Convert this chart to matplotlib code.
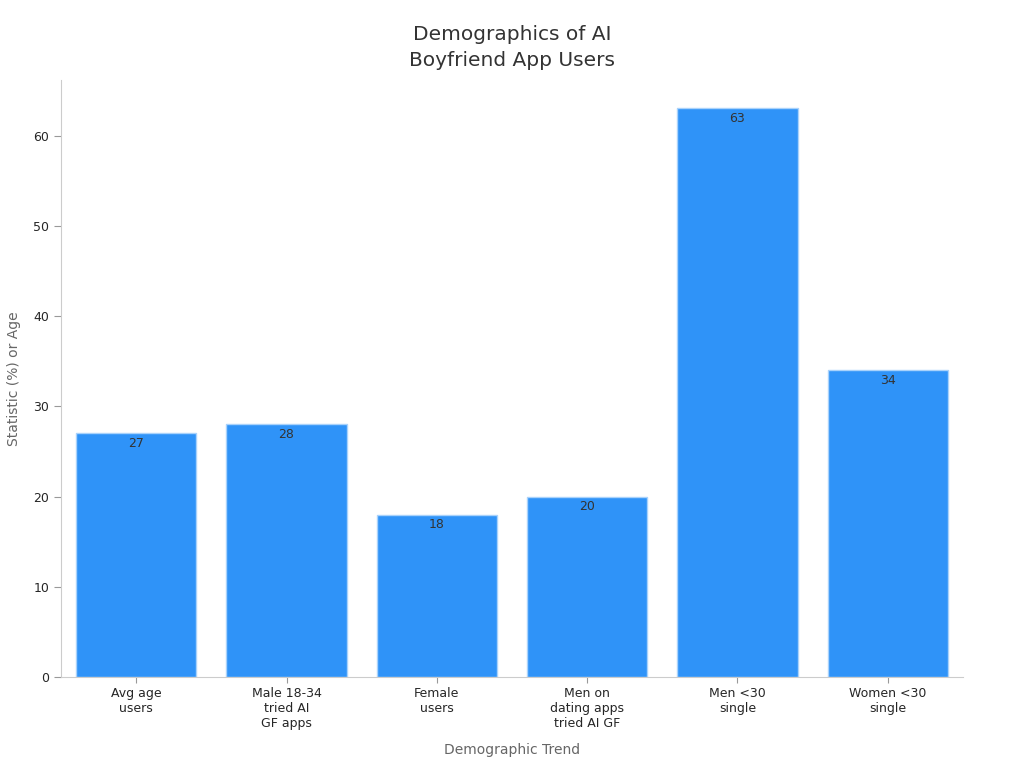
import matplotlib
matplotlib.use("Agg")
import matplotlib.pyplot as plt
import numpy as np

categories = ["Avg age\nusers", "Male 18-34\ntried AI\nGF apps", "Female\nusers",
              "Men on\ndating apps\ntried AI GF", "Men <30\nsingle", "Women <30\nsingle"]
values = [27, 28, 18, 20, 63, 34]

fig = plt.figure(figsize=(10.24, 7.68), dpi=100)
ax = fig.add_axes([0.0596, 0.1185, 0.8808, 0.7773])

x = np.arange(len(categories))
bars = ax.bar(x, values, width=0.8, color="#2f93f8", edgecolor="#a9d2fb", linewidth=1)

for b, v in zip(bars, values):
    ax.text(b.get_x() + b.get_width() / 2, v - 0.4, str(v), ha="center", va="top",
            fontsize=9, color="#333333")

ax.set_xlim(-0.5, 5.5)
ax.set_ylim(0, 66.15)
ax.set_xticks(x)
ax.set_xticklabels(categories, fontsize=9, color="#262626")
ax.set_yticks([0, 10, 20, 30, 40, 50, 60])
ax.tick_params(axis="y", labelsize=9, labelcolor="#262626", color="#999999", length=5)
ax.tick_params(axis="x", color="#999999", length=4)

for s in ["top", "right"]:
    ax.spines[s].set_visible(False)
for s in ["left", "bottom"]:
    ax.spines[s].set_color("#cccccc")

ax.set_xlabel("Demographic Trend", fontsize=10, color="#666666", labelpad=9)
ax.set_ylabel("Statistic (%) or Age", fontsize=10, color="#666666", labelpad=9)
ax.set_title("Demographics of AI\nBoyfriend App Users", fontsize=14.5, color="#333333",
             pad=10, linespacing=1.45)

plt.savefig("out.png", dpi=100)
